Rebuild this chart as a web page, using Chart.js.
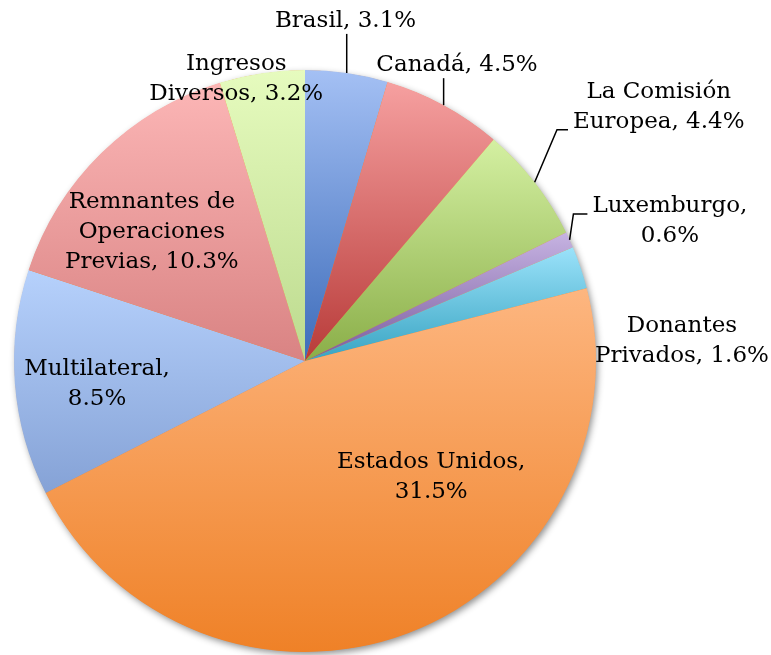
<!DOCTYPE html>
<html>
<head>
<meta charset="utf-8">
<script src="https://cdn.jsdelivr.net/npm/chart.js@4"></script>
<style>
  html, body { margin: 0; padding: 0; background: #fff; }
  #pie { display: block; }
</style>
</head>
<body>
<canvas id="pie" width="771" height="655"></canvas>
<script>
"use strict";

// data
var categories = ["Brasil", "Canadá", "La Comisión Europea", "Luxemburgo", "Donantes Privados",
                  "Estados Unidos", "Multilateral", "Remnantes de Operaciones Previas", "Ingresos Diversos"];
var shares     = [3.1, 4.5, 4.4, 0.6, 1.6, 31.5, 8.5, 10.3, 3.2];

// gradient colours per slice, top -> bottom
var topColors    = ["#a4c0f4", "#f6a0a0", "#d4f0a2", "#c6b3e2", "#9be2fa", "#fdb680", "#b6d1fc", "#fcb6b6", "#e6fbbe"];
var bottomColors = ["#3d6cba", "#b83b39", "#8aae48", "#7a5c9e", "#38a4c2", "#ef8127", "#85a2d6", "#d98383", "#bcda8e"];

// label placement: angle (deg, clockwise from top), distance in radii, words per line
var labelAngles = [6.8, 27.2, 54.3, 69.0, 87.0, 132.6, 263.7, 310.1, 346.3];
var labelDist   = [1.177, 1.143, 1.497, 1.343, 1.297, 0.589, 0.719, 0.688, 0.998];
var labelBreaks = [[3], [3], [2, 2], [1, 1], [1, 2], [2, 1], [1, 1], [2, 1, 2], [1, 2]];
var leaders     = [{ type: "up" }, { type: "up" }, { type: "elbow", dy: 23, run: 11 },
                   { type: "elbow", dy: -7, run: 14 }, null, null, null, null, null];

var FONT   = "23px 'DejaVu Serif'";
var LINE_H = 30;

function sliceAngles(i)
{
    var total = shares.reduce(function (a, b) { return a + b; }, 0);
    var before = 0;
    for (var k = 0; k < i; k++) before += shares[k];
    var a0 = -Math.PI / 2 + before / total * Math.PI * 2;
    var a1 = a0 + shares[i] / total * Math.PI * 2;
    return [a0, a1];
}

function sliceGradient(context)
{
    var chart = context.chart;
    var area  = chart.chartArea;
    var i     = context.dataIndex;
    if (!area) return topColors[i];
    var cx = (area.left + area.right) / 2;
    var cy = (area.top + area.bottom) / 2;
    var r  = Math.min(area.right - area.left, area.bottom - area.top) / 2;
    var ang = sliceAngles(i);
    var ys = [cy, cy + r * Math.sin(ang[0]), cy + r * Math.sin(ang[1])];
    if (ang[0] <= -Math.PI / 2 + 1e-6 || ang[1] >= Math.PI * 1.5 - 1e-6) ys.push(cy - r);
    if (ang[0] <= Math.PI / 2 && ang[1] >= Math.PI / 2) ys.push(cy + r);
    var y0 = Math.min.apply(null, ys);
    var y1 = Math.max.apply(null, ys);
    var g  = chart.ctx.createLinearGradient(0, y0, 0, y1);
    g.addColorStop(0, topColors[i]);
    g.addColorStop(1, bottomColors[i]);
    return g;
}

function labelLines(i)
{
    var words = (categories[i] + ", " + shares[i].toFixed(1) + "%").split(" ");
    var lines = [];
    var pos   = 0;
    labelBreaks[i].forEach(function (n)
    {
        lines.push(words.slice(pos, pos + n).join(" "));
        pos += n;
    });
    return lines;
}

var pieShadow = {
    id: "pieShadow",
    beforeDatasetsDraw: function (chart)
    {
        var arc = chart.getDatasetMeta(0).data[0];
        if (!arc) return;
        var ctx = chart.ctx;
        ctx.save();
        ctx.shadowColor   = "rgba(0, 0, 0, 0.45)";
        ctx.shadowBlur    = 7;
        ctx.shadowOffsetX = 2;
        ctx.shadowOffsetY = 3;
        ctx.fillStyle     = "#f08228";
        ctx.beginPath();
        ctx.arc(arc.x, arc.y, arc.outerRadius - 0.5, 0, Math.PI * 2);
        ctx.fill();
        ctx.restore();
    }
};

var pieLabels = {
    id: "pieLabels",
    afterDatasetsDraw: function (chart)
    {
        var ctx  = chart.ctx;
        var arcs = chart.getDatasetMeta(0).data;
        ctx.save();
        ctx.font         = FONT;
        ctx.fillStyle    = "#000";
        ctx.strokeStyle  = "#000";
        ctx.lineWidth    = 1.5;
        ctx.textAlign    = "center";
        ctx.textBaseline = "middle";
        arcs.forEach(function (arc, i)
        {
            var r    = arc.outerRadius;
            var t    = labelAngles[i] * Math.PI / 180;
            var lx   = arc.x + labelDist[i] * r * Math.sin(t);
            var ly   = arc.y - labelDist[i] * r * Math.cos(t);
            var lines = labelLines(i);
            var top  = ly - lines.length * LINE_H / 2;
            var left = Infinity;
            lines.forEach(function (line, k)
            {
                ctx.fillText(line, lx, top + LINE_H * (k + 0.5));
                left = Math.min(left, lx - ctx.measureText(line).width / 2);
            });

            var lead = leaders[i];
            if (!lead) return;
            var mid = (arc.startAngle + arc.endAngle) / 2;
            var ax  = arc.x + r * Math.cos(mid);
            var ay  = arc.y + r * Math.sin(mid);
            ctx.beginPath();
            ctx.moveTo(ax, ay);
            if (lead.type === "up")
            {
                ctx.lineTo(ax, top + lines.length * LINE_H - 2);
            }
            else
            {
                var ey = ly + lead.dy;
                ctx.lineTo(left - 5 - lead.run, ey);
                ctx.lineTo(left - 5, ey);
            }
            ctx.stroke();
        });
        ctx.restore();
    }
};

new Chart(document.getElementById("pie"), {
    type:    "pie",
    data:    {
        labels:   categories,
        datasets: [
            {
                data:            shares,
                backgroundColor: sliceGradient,
                borderWidth:     0
            }
        ]
    },
    options: {
        responsive:       false,
        devicePixelRatio: 1,
        animation:        false,
        layout:           {
            padding: { left: 14, right: 175, top: 70, bottom: 3 }
        },
        plugins: {
            legend:  { display: false },
            tooltip: { enabled: false }
        }
    },
    plugins: [pieShadow, pieLabels]
});
</script>
</body>
</html>
